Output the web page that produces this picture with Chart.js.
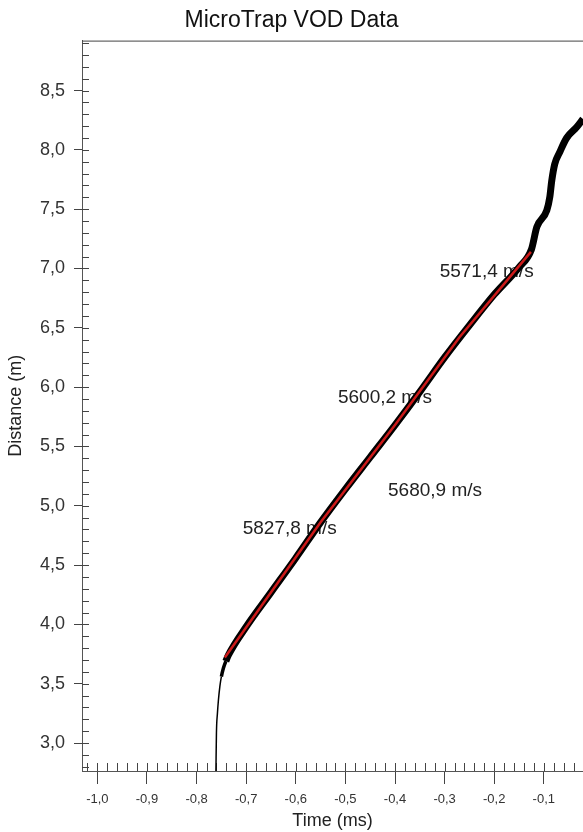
<!DOCTYPE html>
<html>
<head>
<meta charset="utf-8">
<title>MicroTrap VOD Data</title>
<script src="https://cdn.jsdelivr.net/npm/chart.js@4"></script>
<style>
  html, body { margin: 0; padding: 0; background: #fff; }
  #wrap { width: 583px; height: 832px; position: relative; }
</style>
</head>
<body>
<div id="wrap"><canvas id="vod"></canvas></div>
<script>
  // Tick labels
  const X_TICKS = [-1.0, -0.9, -0.8, -0.7, -0.6, -0.5, -0.4, -0.3, -0.2, -0.1];
  const Y_TICKS = [3.0, 3.5, 4.0, 4.5, 5.0, 5.5, 6.0, 6.5, 7.0, 7.5, 8.0, 8.5];

  // Raw trace (time ms, distance m)
  const TRACE_T = [-0.761, -0.760, -0.758, -0.756, -0.753, -0.750, -0.746, -0.741, -0.736,
    -0.70, -0.65, -0.60, -0.55, -0.50, -0.45, -0.40, -0.35, -0.30, -0.25, -0.20, -0.15,
    -0.125, -0.114, -0.094, -0.088, -0.084, -0.078, -0.068, -0.054, -0.034, -0.021];
  const TRACE_D = [2.76, 3.08, 3.25, 3.36, 3.48, 3.56, 3.63, 3.69, 3.74,
    3.98, 4.27, 4.56, 4.86, 5.14, 5.41, 5.68, 5.96, 6.25, 6.52, 6.78, 7.01,
    7.16, 7.35, 7.49, 7.60, 7.74, 7.88, 7.98, 8.10, 8.19, 8.26];

  // Piecewise linear fit (red)
  const FIT_T = [-0.743, -0.55, -0.40, -0.27, -0.126];
  const FIT_D = [3.72, 4.86, 5.68, 6.42, 7.14];

  // Velocity labels
  const LABEL_TEXT = ["5827,8 m/s", "5680,9 m/s", "5600,2 m/s", "5571,4 m/s"];
  const LABEL_T = [-0.707, -0.414, -0.515, -0.310];
  const LABEL_D = [4.81, 5.13, 5.91, 6.97];

  const FONT = "'Liberation Sans', Arial, sans-serif";
  const fmt = (v) => v.toFixed(1).replace(".", ",");

  /* ── inner ticks + top frame ── */
  const innerTicks = {
    id: "innerTicks",
    beforeDatasetsDraw(chart) {
      const { ctx, chartArea: a, scales: { x, y } } = chart;
      ctx.save();
      ctx.strokeStyle = "#444";
      ctx.lineWidth = 1;
      ctx.beginPath();
      ctx.moveTo(a.left, a.top + 0.5);
      ctx.lineTo(a.right, a.top + 0.5);
      for (let i = -52; i <= 0; i++) {
        const px = Math.round(x.getPixelForValue(i * 0.02)) + 0.5;
        if (px < a.left || px > a.right) continue;
        ctx.moveTo(px, a.bottom);
        ctx.lineTo(px, a.bottom - 8);
      }
      for (let i = 28; i <= 89; i++) {
        const py = Math.round(y.getPixelForValue(i * 0.1)) + 0.5;
        if (py < a.top || py > a.bottom) continue;
        ctx.moveTo(a.left, py);
        ctx.lineTo(a.left + 7, py);
      }
      ctx.stroke();
      ctx.restore();
    },
  };

  /* ── velocity labels, under the trace ── */
  const speedLabels = {
    id: "speedLabels",
    beforeDatasetsDraw(chart) {
      const { ctx, scales: { x, y } } = chart;
      ctx.save();
      ctx.font = "19px " + FONT;
      ctx.fillStyle = "#222";
      ctx.textAlign = "left";
      ctx.textBaseline = "middle";
      LABEL_TEXT.forEach((t, i) => {
        ctx.fillText(t, x.getPixelForValue(LABEL_T[i]), y.getPixelForValue(LABEL_D[i]));
      });
      ctx.restore();
    },
  };

  new Chart(document.getElementById("vod"), {
    type: "line",
    data: {
      datasets: [
        {
          label: "Fit",
          data: FIT_T.map((t, i) => ({ x: t, y: FIT_D[i] })),
          borderColor: "#cc1a1a",
          borderWidth: 2.5,
          pointRadius: 0,
          tension: 0,
          order: 0,
        },
        {
          label: "Trace",
          data: TRACE_T.map((t, i) => ({ x: t, y: TRACE_D[i] })),
          borderColor: "#000",
          borderWidth: 7,
          pointRadius: 0,
          cubicInterpolationMode: "monotone",
          order: 1,
          segment: {
            borderWidth: (c) => (c.p0DataIndex < 5 ? 1.5 : c.p0DataIndex < 7 ? 3.5 : 7),
          },
        },
      ],
    },
    options: {
      responsive: true,
      maintainAspectRatio: false,
      animation: false,
      layout: { padding: 0 },
      plugins: {
        legend: { display: false },
        tooltip: { enabled: false },
        title: {
          display: true,
          text: "MicroTrap VOD Data",
          color: "#111",
          font: { size: 23, family: FONT, weight: "normal" },
          padding: { top: 7, bottom: 6 },
        },
      },
      scales: {
        x: {
          type: "linear",
          min: -1.031,
          max: -0.021,
          afterBuildTicks: (s) => { s.ticks = X_TICKS.map((v) => ({ value: v })); },
          afterFit: (s) => { s.height = 61; },
          ticks: {
            callback: (v) => fmt(v),
            font: { size: 13, family: FONT },
            color: "#333",
            padding: 8,
            maxRotation: 0,
            autoSkip: false,
          },
          grid: { drawOnChartArea: false, drawTicks: true, tickLength: 13, color: "#444" },
          border: { display: true, color: "#555" },
          title: {
            display: true,
            text: "Time (ms)",
            color: "#222",
            font: { size: 18, family: FONT },
            padding: { top: 0, bottom: 0 },
          },
        },
        y: {
          type: "linear",
          min: 2.764,
          max: 8.921,
          afterBuildTicks: (s) => { s.ticks = Y_TICKS.map((v) => ({ value: v })); },
          afterFit: (s) => { s.width = 82; },
          ticks: {
            callback: (v) => fmt(v),
            font: { size: 18, family: FONT },
            color: "#333",
            padding: 9,
            autoSkip: false,
          },
          grid: { drawOnChartArea: false, drawTicks: true, tickLength: 8, color: "#444" },
          border: { display: true, color: "#555" },
          title: {
            display: true,
            text: "Distance (m)",
            color: "#222",
            font: { size: 18, family: FONT },
            padding: { top: 5, bottom: 0 },
          },
        },
      },
    },
    plugins: [innerTicks, speedLabels],
  });
</script>
</body>
</html>
